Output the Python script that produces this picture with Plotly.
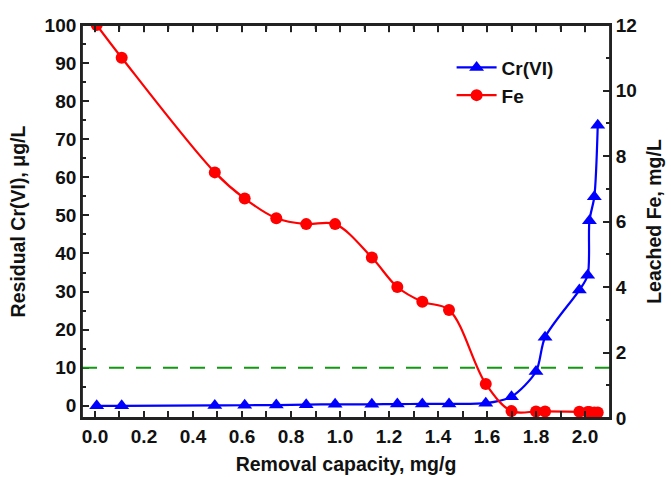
import plotly.graph_objects as go

# Data
capacity = [0.007, 0.109, 0.489, 0.611, 0.74, 0.862, 0.98, 1.13, 1.234, 1.336,
            1.445, 1.595, 1.70, 1.80, 1.837, 1.977, 2.011, 2.018, 2.038, 2.052]
cr_vi = [0.0, 0.0, 0.1, 0.15, 0.2, 0.3, 0.4, 0.4, 0.45, 0.5,
         0.5, 0.7, 2.4, 9.0, 18.0, 30.4, 34.3, 48.6, 54.9, 73.7]
fe = [12.0, 11.0, 7.5, 6.7, 6.1, 5.92, 5.92, 4.9, 4.0, 3.55,
      3.3, 1.04, 0.21, 0.2, 0.2, 0.19, 0.18, 0.18, 0.17, 0.17]
threshold = 10

x_ticks = [0.0, 0.2, 0.4, 0.6, 0.8, 1.0, 1.2, 1.4, 1.6, 1.8, 2.0]
x_ticklabels = ["0.0", "0.2", "0.4", "0.6", "0.8", "1.0", "1.2", "1.4", "1.6", "1.8", "2.0"]
x_minor = [k / 10 for k in range(0, 21)]
x_range = [-0.053, 2.102]
y_left_range = [-3.2, 100]
y_right_range = [0, 12]

FONT = "Liberation Sans, Arial, sans-serif"
AX = "#222222"

fig = go.Figure()
fig.add_trace(go.Scatter(
    x=capacity, y=cr_vi, name="Cr(VI)", mode="lines+markers",
    line=dict(color="#0000FF", width=2.2, shape="spline", smoothing=0.8),
    marker=dict(symbol="triangle-up", size=13, color="#0000FF"),
    xaxis="x", yaxis="y"))
fig.add_trace(go.Scatter(
    x=capacity, y=fe, name="Fe", mode="lines+markers",
    line=dict(color="#FF0000", width=2.2, shape="spline", smoothing=1.0),
    marker=dict(symbol="circle", size=12, color="#FF0000"),
    xaxis="x", yaxis="y2"))

fig.add_shape(type="line", xref="paper", x0=0, x1=1, yref="y", y0=threshold, y1=threshold,
              line=dict(color="#119911", width=2.2, dash="15px,12px"))
# frame around the plot area (gives the top border)
fig.add_shape(type="rect", xref="paper", x0=0, x1=1, yref="paper", y0=0, y1=1,
              line=dict(color=AX, width=1.8), fillcolor="rgba(0,0,0,0)", layer="above")
# top frame ticks (mirror of x ticks)
for i, t in enumerate(x_minor):
    fig.add_shape(type="line", xref="x", x0=t, x1=t, yref="y",
                  y0=y_left_range[1], y1=y_left_range[1] - (1.9 if i % 2 == 0 else 1.1),
                  line=dict(color=AX, width=1.5), layer="above")

tickfont = dict(family=FONT, size=19, color="#111111", weight="bold")
titlefont = dict(family=FONT, size=19.5, color="#111111", weight="bold")

tick_common = dict(ticks="inside", ticklen=7, tickwidth=1.5, tickcolor=AX,
                   showline=True, linecolor=AX, linewidth=1.8,
                   showgrid=False, zeroline=False, automargin=False)

fig.update_layout(
    width=671, height=477,
    margin=dict(l=82, r=61, t=25, b=59),
    paper_bgcolor="white", plot_bgcolor="white",
    showlegend=True,
    legend=dict(x=0.70, y=0.94, xanchor="left", yanchor="top",
                font=dict(family=FONT, size=19, color="#111111", weight="bold"),
                bgcolor="rgba(0,0,0,0)", itemwidth=40, tracegroupgap=2),
    xaxis=dict(range=x_range, tickvals=x_ticks, ticktext=x_ticklabels, mirror="allticks",
               minor=dict(dtick=0.1, ticks="inside", ticklen=4, tickwidth=1.5, tickcolor=AX),
               tickfont=tickfont,
               title=dict(text="Removal capacity, mg/g", font=titlefont, standoff=12),
               **tick_common),
    yaxis=dict(range=y_left_range, dtick=10, tick0=0,
               minor=dict(dtick=5, ticks="inside", ticklen=4, tickwidth=1.5, tickcolor=AX),
               tickfont=tickfont,
               title=dict(text="Residual Cr(VI), μg/L", font=titlefont, standoff=14),
               **tick_common),
    yaxis2=dict(range=y_right_range, dtick=2, tick0=0, overlaying="y", side="right",
                minor=dict(dtick=1, ticks="inside", ticklen=4, tickwidth=1.5, tickcolor=AX),
                tickfont=tickfont,
                title=dict(text="Leached Fe, mg/L", font=titlefont, standoff=12),
                **tick_common),
)

fig.write_html("out.html")
